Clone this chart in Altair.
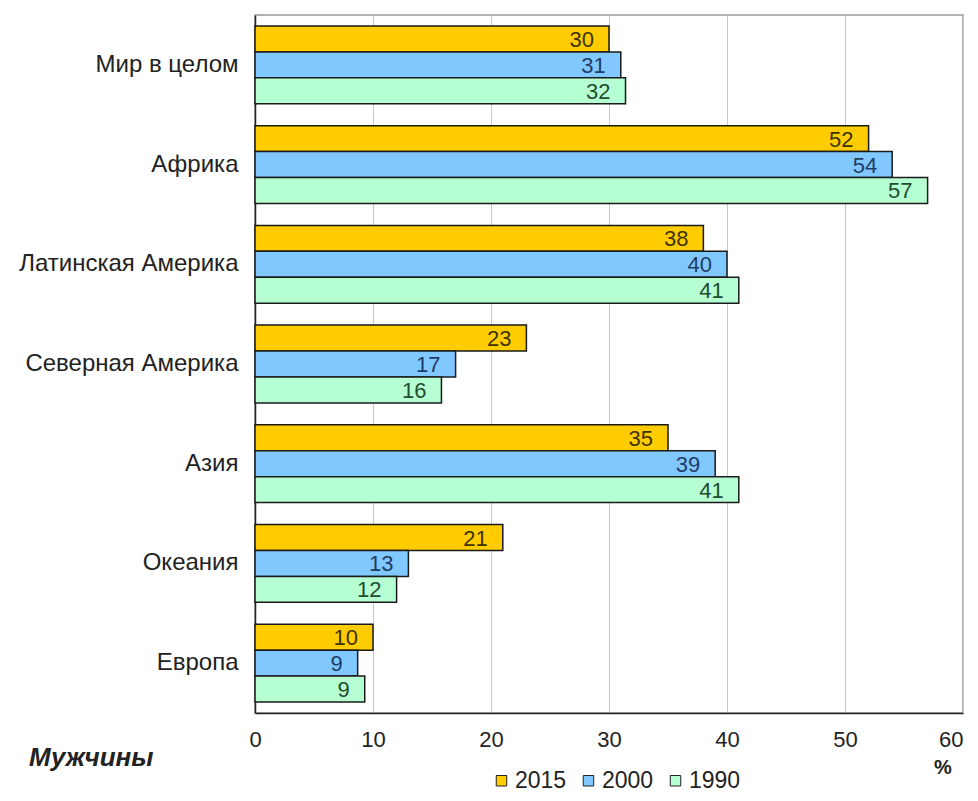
import altair as alt
import pandas as pd

FONT = "Liberation Sans"

regions = ["Мир в целом", "Африка", "Латинская Америка", "Северная Америка",
           "Азия", "Океания", "Европа"]
years = ["2015", "2000", "1990"]

# bar lengths
v2015 = [30, 52, 38, 23, 35, 21, 10]
v2000 = [31, 54, 40, 17, 39, 13, 8.7]
v1990 = [31.4, 57, 41, 15.8, 41, 12, 9.3]

# printed labels
l2015 = [30, 52, 38, 23, 35, 21, 10]
l2000 = [31, 54, 40, 17, 39, 13, 9]
l1990 = [32, 57, 41, 16, 41, 12, 9]

fill_colors = ["#FFCC00", "#80C8FF", "#B5FFD2"]
text_colors = ["#3D3300", "#1F3D66", "#1F4D2E"]
x_ticks = [0, 10, 20, 30, 40, 50, 60]

rows = []
for yr, vals, labs, tc in zip(years, [v2015, v2000, v1990], [l2015, l2000, l1990], text_colors):
    for r, v, l in zip(regions, vals, labs):
        rows.append({"region": r, "year": yr, "value": v, "label": str(l), "tcolor": tc})
df = pd.DataFrame(rows)

base = alt.Chart(df).encode(
    y=alt.Y("region:N", sort=regions,
            scale=alt.Scale(paddingInner=0.22, paddingOuter=0.11),
            axis=alt.Axis(title=None, ticks=False, grid=False, domainColor="#222",
                          domainWidth=1.5, labelFontSize=24, labelColor="#222",
                          labelPadding=17, labelFont=FONT, labelLimit=400)),
    yOffset=alt.YOffset("year:N", sort=years),
    x=alt.X("value:Q", scale=alt.Scale(domain=[0, 60], nice=False),
            axis=alt.Axis(title=None, values=x_ticks, ticks=False, grid=True,
                          gridColor="#c8c8c8", domainColor="#222", domainWidth=1.5,
                          labelFontSize=22, labelColor="#222", labelPadding=16,
                          labelFont=FONT, labelFlush=False,
                          labelAlign=alt.condition("datum.value == 60",
                                                   alt.value("right"),
                                                   alt.value("center")))),
)

bars = base.mark_bar(stroke="#1a1a1a", strokeWidth=1.5).encode(
    color=alt.Color("year:N", sort=years,
                    scale=alt.Scale(domain=years, range=fill_colors),
                    legend=alt.Legend(title=None, orient="none", legendX=235, legendY=754,
                                      direction="horizontal", symbolType="square",
                                      symbolSize=110, symbolStrokeColor="#222",
                                      symbolStrokeWidth=1, symbolOpacity=1,
                                      labelFontSize=23, labelFont=FONT,
                                      labelColor="#222", columnPadding=10,
                                      labelOffset=2))
)

labels = base.mark_text(align="right", baseline="middle", dx=-15, dy=1, fontSize=22,
                        font=FONT).encode(
    text="label:N",
    color=alt.Color("tcolor:N", scale=None),
)

title_df = pd.DataFrame({"t": ["Мужчины"]})
title_txt = alt.Chart(title_df).mark_text(
    align="left", baseline="middle", fontSize=26, fontWeight="bold",
    fontStyle="italic", font=FONT, color="#222"
).encode(text="t:N", x=alt.value(-226), y=alt.value(743))

pct_df = pd.DataFrame({"t": ["%"]})
pct_txt = alt.Chart(pct_df).mark_text(
    align="center", baseline="middle", fontSize=20, fontWeight="bold",
    font=FONT, color="#222"
).encode(text="t:N", x=alt.value(688), y=alt.value(753))

chart = alt.layer(bars, labels, title_txt, pct_txt).properties(
    width=708, height=698,
    autosize=alt.AutoSizeParams(type="none"),
    padding={"left": 247, "top": 7, "right": 7, "bottom": 80},
).configure_view(stroke="#999", strokeWidth=1.5)

chart.save("out.html", embed_options={"renderer": "svg", "actions": False})
